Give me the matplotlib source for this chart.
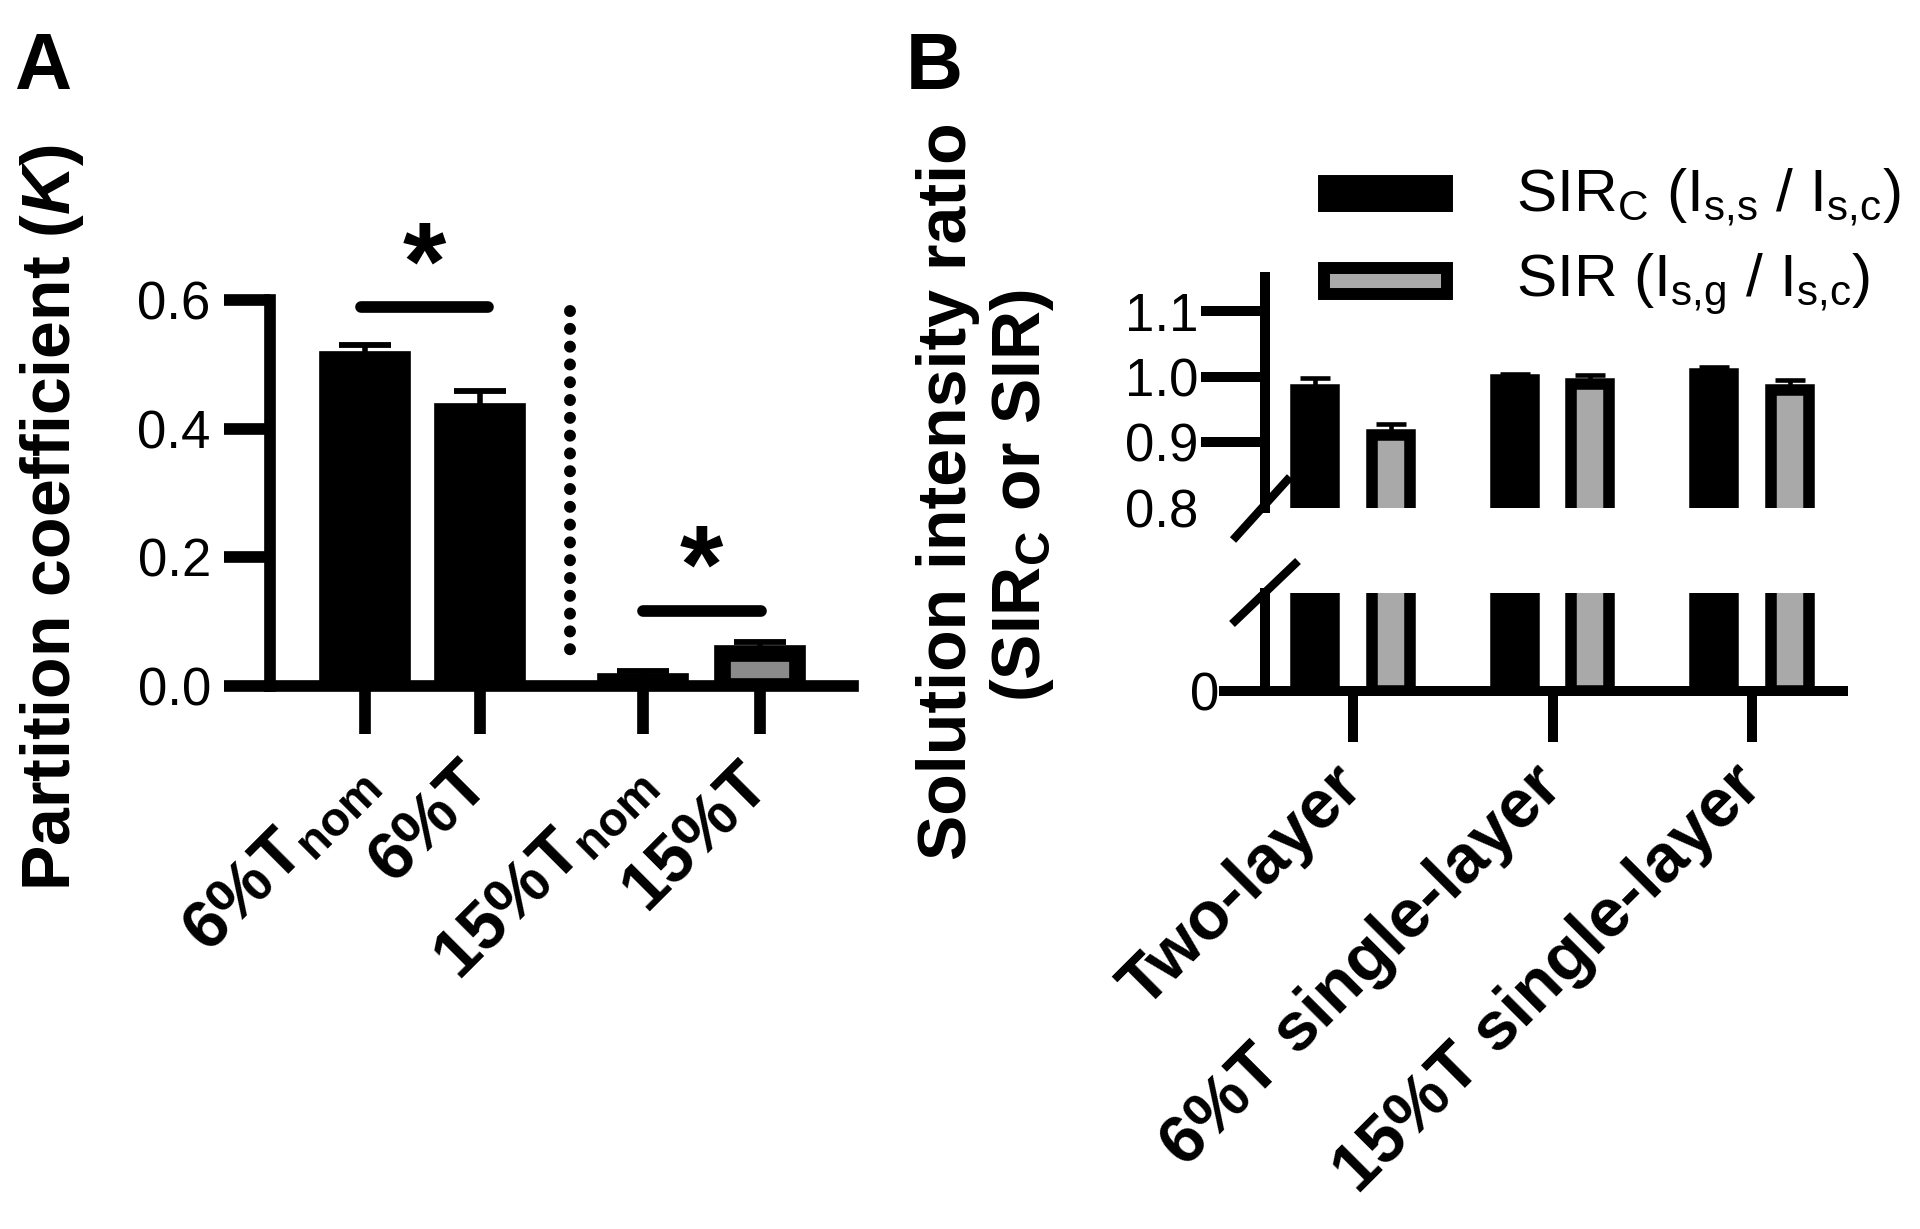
import matplotlib
matplotlib.use('Agg')
import matplotlib.pyplot as plt
from matplotlib.patches import Rectangle
from matplotlib.lines import Line2D
import numpy as np

plt.rcParams['font.family'] = ['Liberation Sans', 'DejaVu Sans']
plt.rcParams['mathtext.fontset'] = 'custom'
plt.rcParams['mathtext.rm'] = 'Liberation Sans'
plt.rcParams['mathtext.it'] = 'Liberation Sans:italic'
plt.rcParams['mathtext.bf'] = 'Liberation Sans:bold'
plt.rcParams['mathtext.bfit'] = 'Liberation Sans:bold:italic'
plt.rcParams['mathtext.sf'] = 'Liberation Sans'

# ---------------- data ----------------
# Panel A: partition coefficient K
a_labels = [r'6%T$_{\mathbf{nom}}$', '6%T', r'15%T$_{\mathbf{nom}}$', '15%T']
a_values = [0.508, 0.427, 0.007, 0.052]
a_errors = [0.022, 0.031, 0.016, 0.017]
a_sig_pairs = [(0, 1), (2, 3)]
a_sig_heights = [0.589, 0.117]
a_yticks = [0.0, 0.2, 0.4, 0.6]
a_yticklabels = ['0.0', '0.2', '0.4', '0.6']

# Panel B: solution intensity ratio
b_groups = ['Two-layer', '6%T single-layer', '15%T single-layer']
b_series = [r'SIR$_\mathrm{C}$ (I$_\mathrm{s{,}s}$ / I$_\mathrm{s{,}c}$)',
            r'SIR (I$_\mathrm{s{,}g}$ / I$_\mathrm{s{,}c}$)']
b_sirc = [0.980, 0.994, 1.0035]
b_sirc_err = [0.017, 0.010, 0.0115]
b_sir = [0.910, 0.989, 0.980]
b_sir_err = [0.017, 0.014, 0.014]
b_upper_ticks = [0.8, 0.9, 1.0, 1.1]
b_upper_ticklabels = ['0.8', '0.9', '1.0', '1.1']

# ---------------- layout helpers ----------------
W, H = 1920, 1229
fig = plt.figure(figsize=(W / 100, H / 100), dpi=100)


def fx(px):
    return px / W


def fy(py):
    return 1 - py / H


# ================= Panel A =================
axA = fig.add_axes([fx(270.2), fy(686), (852.6 - 270.2) / W, (686 - 300) / H])
xA = [0, 1, 2.42, 3.44]
colA = ['black', 'black', 'black', '#8a8a8a']
axA.bar(xA, a_values, width=0.653, color=colA, edgecolor='black',
        linewidth=12, zorder=2)
axA.errorbar(xA, a_values, yerr=[np.zeros(len(a_values)), a_errors], fmt='none',
             ecolor='black', elinewidth=4, capsize=18.6, capthick=4.2,
             zorder=3, clip_on=False)
axA.set_xlim(-0.824, 4.249)
axA.set_ylim(0, 0.6)
for s in ['top', 'right']:
    axA.spines[s].set_visible(False)
for s in ['left', 'bottom']:
    axA.spines[s].set_linewidth(8.4)
    axA.spines[s].set_capstyle('projecting')
    axA.spines[s].set_zorder(5)
axA.set_yticks(a_yticks)
axA.set_yticklabels(a_yticklabels, fontsize=38)
axA.tick_params(axis='y', length=32.8, width=8.4, pad=10)
axA.set_xticks(xA)
axA.set_xticklabels(a_labels, rotation=45, ha='right', va='center',
                    rotation_mode='anchor', fontsize=49, fontweight='bold')
axA.tick_params(axis='x', length=34.6, width=8.4, pad=28)

# dotted separator
axA.plot([1.786, 1.786], [0.583, 0.034], color='black', lw=8.6,
         linestyle=(0, (0.01, 1.48)), dash_capstyle='round', clip_on=False, zorder=3)

# significance bars
sig_x = [(-0.03, 1.07), (2.42, 3.45)]
for (x0, x1), yv in zip(sig_x, a_sig_heights):
    axA.plot([x0, x1], [yv, yv], color='black', lw=8.4, solid_capstyle='round',
             clip_on=False, zorder=4)
    axA.text((x0 + x1) / 2, yv + 0.012, '*', ha='center', va='baseline', fontsize=80,
             fontweight='bold', clip_on=False)

fig.text(fx(52), fy(518), r'Partition coefficient ($\bfit{K}$)', rotation=90,
         ha='center', va='center', fontsize=49, fontweight='bold')
fig.text(fx(14), fy(89), 'A', fontsize=57, fontweight='bold', ha='left', va='baseline')

# ================= Panel B =================
left_B = 1265
width_B = (1843 - 1265) / W
axU = fig.add_axes([fx(left_B), fy(507.5), width_B, (507.5 - 277) / H])
axL = fig.add_axes([fx(left_B), fy(690.6), width_B, (690.6 - 593) / H])
xg = np.arange(len(b_groups))
off = 0.19
bw = 0.19
for ax in (axU, axL):
    ax.bar(xg - off, b_sirc, width=bw, color='black', edgecolor='black',
           linewidth=8.3, zorder=2, label=b_series[0])
    ax.bar(xg + off, b_sir, width=bw, color='#a9a9a9', edgecolor='black',
           linewidth=8.3, zorder=2, label=b_series[1])
    ax.set_xlim(-0.441, 2.456)
    for s in ['top', 'right']:
        ax.spines[s].set_visible(False)
    ax.spines['left'].set_linewidth(7.2)
    ax.spines['bottom'].set_linewidth(7.2)
    for s in ['left', 'bottom']:
        ax.spines[s].set_zorder(5)
        ax.spines[s].set_capstyle('projecting')

axU.errorbar(xg - off, b_sirc, yerr=[np.zeros(3), b_sirc_err], fmt='none',
             ecolor='black', elinewidth=3.3, capsize=10.5, capthick=3.3, zorder=3)
axU.errorbar(xg + off, b_sir, yerr=[np.zeros(3), b_sir_err], fmt='none',
             ecolor='black', elinewidth=3.3, capsize=10.5, capthick=3.3, zorder=3)

axU.set_ylim(0.8, 1.152)
axU.spines['bottom'].set_visible(False)
axU.set_xticks([])
axU.set_yticks(b_upper_ticks)
axU.set_yticklabels(b_upper_ticklabels, fontsize=38)
axU.tick_params(axis='y', length=46, width=7.2, pad=2)
axU.yaxis.get_major_ticks()[0].tick1line.set_visible(False)

axL.set_ylim(0, 0.149)
axL.set_yticks([0])
axL.set_yticklabels(['0'], fontsize=38)
axL.tick_params(axis='y', length=33, width=7.2, pad=0)
axL.set_xticks(xg)
axL.set_xticklabels(b_groups, rotation=45, ha='right', va='center',
                    rotation_mode='anchor', fontsize=49, fontweight='bold')
axL.tick_params(axis='x', length=37, width=7.2, pad=24.5)

# axis break marks
for (x0, y0, x1, y1) in [(1233, 540, 1290, 477), (1232, 624, 1298, 561)]:
    fig.add_artist(Line2D([fx(x0), fx(x1)], [fy(y0), fy(y1)], transform=fig.transFigure,
                          color='black', lw=6, solid_capstyle='butt'))

# legend
leg_rows = [(181, 206, 'black', 211.7), (267.5, 294, '#a9a9a9', 296.7)]
for (ytop, ybot, col, base), lab in zip(leg_rows, b_series):
    fig.add_artist(Rectangle((fx(1324), fy(ybot)), (1447 - 1324) / W, (ybot - ytop) / H,
                             transform=fig.transFigure, facecolor=col,
                             edgecolor='black', linewidth=8.6))
    fig.text(fx(1516), fy(base), lab, fontsize=43.5, ha='left', va='baseline')

fig.text(fx(948), fy(491), 'Solution intensity ratio', rotation=90,
         ha='center', va='center', fontsize=49, fontweight='bold')
fig.text(fx(1022), fy(495), r'(SIR$_\mathbf{C}$ or SIR)', rotation=90,
         ha='center', va='center', fontsize=49, fontweight='bold')
fig.text(fx(906), fy(89), 'B', fontsize=57, fontweight='bold', ha='left', va='baseline')

fig.savefig('out.png', dpi=100)
